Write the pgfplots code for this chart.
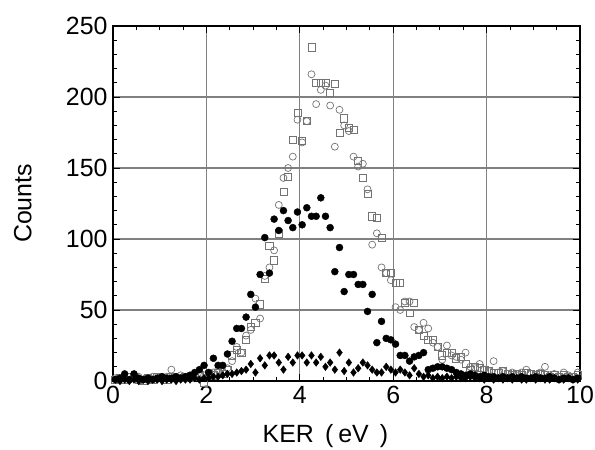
\documentclass[border=0pt]{standalone}
\usepackage{fontspec}
\setmainfont{Liberation Sans}
\usepackage{pgfplots}
\pgfplotsset{compat=1.18}
\usepackage{pgfplotstable}

\pgfplotstableread{
x fc fd oc sq
0.05 1 1 2 1
0.15 2 0 1 2
0.25 5 1 2 1
0.35 1 0 1 3
0.45 5 1 2 2
0.55 2 0 3 1
0.65 1 1 1 0
0.75 2 0 2 2
0.85 1 1 3 1
0.95 2 1 2 3
1.05 3 0 3 2
1.15 2 1 3 1
1.25 2 1 8 3
1.35 3 0 3 2
1.45 2 1 4 2
1.55 3 1 3 3
1.65 4 1 4 2
1.75 6 2 4 3
1.85 8 1 5 4
1.95 11 2 4 -1
2.05 6 2 5 5
2.15 16 3 6 4
2.25 11 3 8 6
2.35 11 4 7 5
2.45 19 5 9 8
2.55 28 5 14 18
2.65 37 6 24 22
2.75 37 7 20 20
2.85 45 8 32 29
2.95 61 12 36 38
3.05 52 6 58 41
3.15 75 16 44 54
3.25 101 11 74 72
3.35 76 18 80 95
3.45 114 18 92 85
3.55 106 13 124 104
3.65 120 8 143 133
3.75 113 17 150 144
3.85 108 13 158 170
3.95 119 18 184 189
4.05 110 18 168 169
4.15 122 13 183 183
4.25 116 18 216 235
4.35 116 13 195 210
4.45 129 17 205 210
4.55 116 10 208 210
4.65 108 13 194 203
4.75 77 8 165 209
4.85 94 20 191 175
4.95 63 7 180 185
5.05 75 13 176 178
5.15 75 6 158 177
5.25 68 9 151 155
5.35 68 13 153 143
5.45 49 11 135 132
5.55 61 8 96 116
5.65 27 6 104 115
5.75 42 6 80 101
5.85 30 10 76 76
5.95 29 8 71 76
6.05 26 6 52 69
6.15 18 8 50 69
6.25 18 6 56 55
6.35 14 4 56 48
6.45 17 9 38 55
6.55 18 5 36 36
6.65 20 3 41 32
6.75 8 4 37 29
6.85 9 2 27 29
6.95 10 3 24 24
7.05 10 2 15 18
7.15 9 3 25 20
7.25 8 2 18 20
7.35 6 3 17 16
7.45 5 2 15 17
7.55 4 2 20 12
7.65 5 3 10 8
7.75 4 2 9 10
7.85 3 2 12 9
7.95 4 1 8 8
8.05 3 2 7 7
8.15 3 1 14 6
8.25 2 2 6 6
8.35 3 1 7 7
8.45 2 2 5 5
8.55 3 1 6 4
8.65 2 2 4 5
8.75 3 1 6 4
8.85 2 1 8 6
8.95 2 2 5 5
9.05 3 1 4 4
9.15 2 2 6 5
9.25 2 1 10 4
9.35 3 1 4 3
9.45 2 2 5 4
9.55 1 1 3 3
9.65 2 1 6 4
9.75 2 2 4 3
9.85 1 1 3 3
9.95 2 1 6 4
}\datatable

\begin{document}
\begin{tikzpicture}
\begin{axis}[
  name=ax,
  scale only axis,
  width=467bp, height=355bp,
  xmin=0, xmax=10, ymin=0, ymax=250,
  xtick={0,2,...,10}, ytick={0,50,...,250},
  minor x tick num=3, minor y tick num=4,
  tick align=inside,
  major tick length=7bp, minor tick length=4bp,
  every tick/.style={black, line width=0.9bp},
  axis line style={black, line width=1.3bp},
  grid=major,
  major grid style={black!50, line width=1.1bp},
  clip=false,
  /pgf/number format/assume math mode=true,
  ticklabel style={font=\fontsize{25}{28}\selectfont},
  yticklabel style={xshift=-2bp},
  xticklabel style={yshift=-2bp},
  xlabel={KER\hspace{0.45em}(\hspace{0.2em}eV\hspace{0.45em})},
  ylabel={Counts},
  every axis x label/.style={at={(axis description cs:0.455,-0.155)}, anchor=center, font=\fontsize{25}{28}\selectfont},
  every axis y label/.style={at={(axis description cs:-0.193,0.5)}, anchor=center, rotate=90, font=\fontsize{25}{28}\selectfont},
]
\addplot[only marks, mark=square, mark size=3.6bp, mark options={draw=black!55, line width=0.7bp}] table[x=x, y=sq] {\datatable};
\addplot[only marks, mark=o, mark size=3.5bp, mark options={draw=black!55, line width=0.7bp}] table[x=x, y=oc] {\datatable};
\addplot[only marks, mark=*, mark size=3.5bp, mark options={fill=black, draw=black}] table[x=x, y=fc] {\datatable};
\addplot[only marks, mark=diamond*, mark size=3.8bp, mark options={fill=black, draw=black}] table[x=x, y=fd] {\datatable};
\end{axis}
\pgfresetboundingbox
\path ([shift={(-113bp,-69bp)}]ax.south west) rectangle ([shift={(15bp,26bp)}]ax.north east);
\end{tikzpicture}
\end{document}
